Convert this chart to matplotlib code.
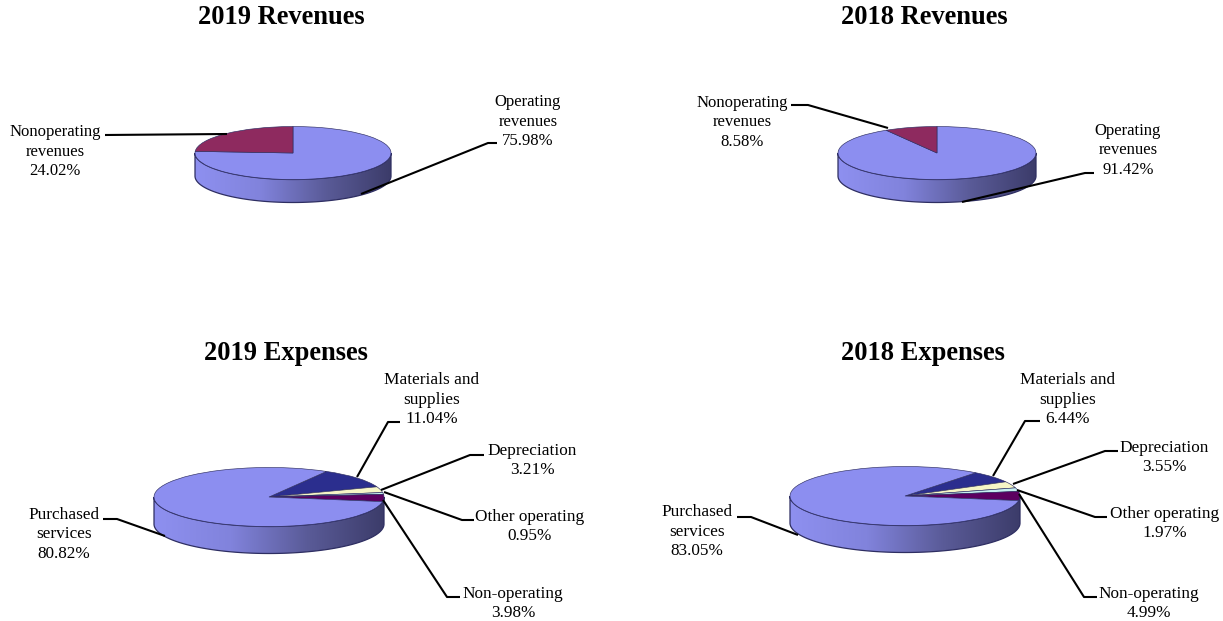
import numpy as np
import matplotlib
matplotlib.use("Agg")
import matplotlib.pyplot as plt
from matplotlib.colors import LinearSegmentedColormap
from matplotlib.patches import Polygon

plt.rcParams['font.family'] = ['Liberation Serif', 'DejaVu Serif']

W, H = 1223, 621

# DATA

rev_labels = ["Operating\nrevenues", "Nonoperating\nrevenues"]
rev_2019 = [75.98, 24.02]
rev_2018 = [91.42, 8.58]
rev_colors = ["#8c8ef0", "#8e2a5f"]

exp_labels = ["Materials and\nsupplies", "Depreciation", "Other operating",
              "Non-operating", "Purchased\nservices"]
exp_2019 = [11.04, 3.21, 0.95, 3.98, 80.82]
exp_2018 = [6.44, 3.55, 1.97, 4.99, 83.05]
exp_colors = ["#2b2e8e", "#f6f6c6", "#c6f0f0", "#5c0060", "#8c8ef0"]

titles = ["2019 Revenues", "2018 Revenues", "2019 Expenses", "2018 Expenses"]

# LAYOUT (pixels)
# title x/y, pie centre x/y, radii, depth, start angle
layout = [
    (281, 17, 293, 153, 98, 26.5, 23, 90),
    (924.5, 17, 937, 153, 99, 26.5, 23, 90),
    (286, 354, 269, 497, 115, 29.5, 27, 60),
    (923, 354, 905, 496, 115, 29.5, 27, 52),
]

rev_2019_text = [(528, 121.5), (55, 151.5)]
rev_2018_text = [(1128, 150.5), (742, 122.5)]
exp_2019_text = [(432, 399.5), (532, 460.5), (530, 526.5), (513, 603.5), (64, 534.5)]
exp_2018_text = [(1068, 399.5), (1164, 457.5), (1165, 523.5), (1149, 603.5), (697, 531.5)]

rev_2019_lines = [[(361, 194), (488, 143), (497, 143)],
                  [(105, 135), (227, 134)]]
rev_2018_lines = [[(962, 202), (1085, 173), (1094, 173)],
                  [(791, 105), (808, 105), (888, 128)]]
exp_2019_lines = [[(357, 477), (388, 422), (400, 422)],
                  [(381, 490), (470, 455), (484, 455)],
                  [(384, 492), (462, 520), (474, 520)],
                  [(383, 500), (447, 597), (460, 597)],
                  [(165, 536), (117, 519), (103, 519)]]
exp_2018_lines = [[(993, 476), (1025, 421), (1040, 421)],
                  [(1013, 484), (1105, 451), (1118, 451)],
                  [(1017, 490), (1095, 517), (1107, 517)],
                  [(1019, 494), (1084, 597), (1097, 597)],
                  [(798, 535), (751, 517), (737, 517)]]

side_cmap = LinearSegmentedColormap.from_list(
    "side", ["#8e90f0", "#8183dc", "#5a5b98", "#3c3c6a"])
EDGE = "#2e2e62"


# Draw one tilted pie: an elliptical ax.pie on top of a shaded rim
def draw_pie(fig, values, colors, cx, cy, rx, ry, depth, start):
    d = depth / ry
    pos = [(cx - 1.1 * rx) / W, 1 - (cy + 1.1 * ry + depth) / H,
           2.2 * rx / W, (2.2 * ry + depth) / H]
    ax = fig.add_axes(pos)
    ax.patch.set_alpha(0)

    t = np.linspace(np.pi, 2 * np.pi, 200)
    x, y = np.cos(t), np.sin(t)
    rim = Polygon(np.r_[np.c_[x, y], np.c_[x[::-1], y[::-1] - d]],
                  closed=True, facecolor="none", edgecolor=EDGE, lw=0.9, zorder=3)
    ax.add_patch(rim)
    img = ax.imshow(np.linspace(0, 1, 256).reshape(1, -1), cmap=side_cmap,
                    extent=(-1, 1, -1 - d, 0), aspect="auto", zorder=1)
    img.set_clip_path(rim)

    ax.pie(values, colors=colors, startangle=start, counterclock=False, radius=1,
           wedgeprops=dict(edgecolor=EDGE, linewidth=0.45, zorder=4))
    ax.set_aspect("auto")
    ax.set_xlim(-1.1, 1.1)
    ax.set_ylim(-1.1 - d, 1.1)
    ax.axis("off")


fig = plt.figure(figsize=(W / 100, H / 100), dpi=100)

pies = [(rev_2019, rev_colors), (rev_2018, rev_colors),
        (exp_2019, exp_colors), (exp_2018, exp_colors)]
for (values, colors), (_, _, cx, cy, rx, ry, depth, start) in zip(pies, layout):
    draw_pie(fig, values, colors, cx, cy, rx, ry, depth, start)

# Overlay in pixel coordinates for titles, labels and leader lines
over = fig.add_axes([0, 0, 1, 1])
over.set_xlim(0, W)
over.set_ylim(H, 0)
over.axis("off")
over.patch.set_alpha(0)

for title, lay in zip(titles, layout):
    over.text(lay[0], lay[1], title, fontsize=19.1, fontweight="bold",
              ha="center", va="center")

groups = [
    (rev_labels, rev_2019, rev_2019_text, rev_2019_lines, 12.0),
    (rev_labels, rev_2018, rev_2018_text, rev_2018_lines, 12.0),
    (exp_labels, exp_2019, exp_2019_text, exp_2019_lines, 12.4),
    (exp_labels, exp_2018, exp_2018_text, exp_2018_lines, 12.4),
]
for labels, values, text_pos, lines, size in groups:
    for label, value, (tx, ty), line in zip(labels, values, text_pos, lines):
        over.text(tx, ty, f"{label}\n{value:.2f}%", fontsize=size, ha="center",
                  va="center", linespacing=1.27)
        xs, ys = zip(*line)
        over.plot(xs, ys, color="black", lw=1.5, solid_capstyle="butt")

fig.savefig("out.png", dpi=100)
